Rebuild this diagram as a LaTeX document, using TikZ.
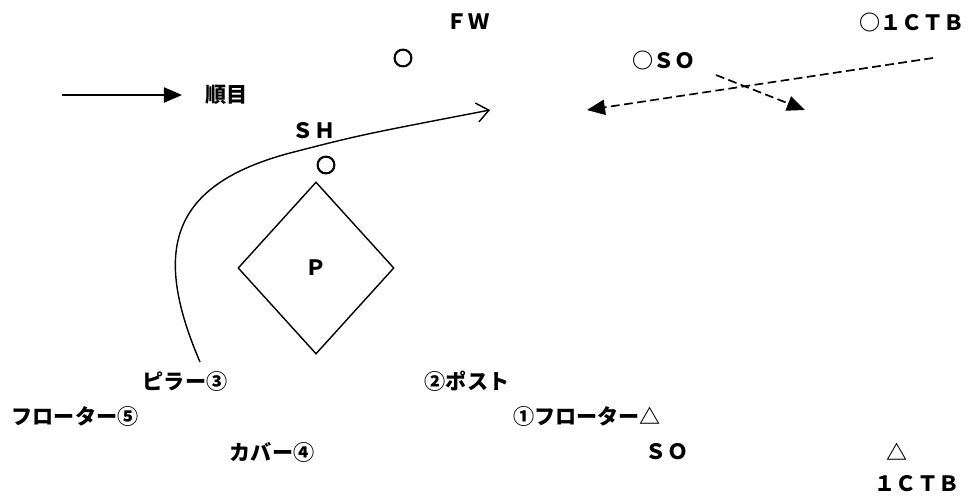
\documentclass[tikz,border=0pt]{standalone}
\usepackage{fontspec}
\newfontfamily\jpfont{Noto Sans CJK JP}
\usetikzlibrary{arrows.meta, shapes.geometric}
\tikzset{
  >={Triangle[length=4.5mm, width=3.8mm]},
  lbl/.style={font=\jpfont\bfseries\fontsize{15pt}{15pt}\selectfont, inner sep=0pt},
  ring/.style={circle, draw, line width=1.5pt, minimum size=4.2mm, inner sep=0pt},
  plate/.style={diamond, draw, line width=1pt, minimum width=3.9cm, minimum height=4.3cm, inner sep=0pt},
  flow/.style={->, line width=1pt},
  flowd/.style={->, line width=1.2pt, dash pattern=on 2.2mm off 1.1mm},
  run/.style={-{Straight Barb[length=3mm, width=4.8mm, line width=1pt]}, line width=1pt},
}
\begin{document}
\begin{tikzpicture}[x=0.025cm, y=-0.025cm]
  \useasboundingbox (0,0) rectangle (978,500);
  % top row
  \node[lbl] (fw) at (468,22) {ＦＷ};
  \node[ring] (fwp) at (403,58) {};
  \node[lbl] (so) at (664,60) {○ＳＯ};
  \node[lbl] (ctb) at (912,22) {○１ＣＴＢ};
  % legend
  \coordinate (lg) at (62,95);
  \coordinate (lgtip) at (182,95);
  \node[lbl, anchor=west] (jun) at (205,95) {順目};
  \draw[flow] (lg) -- (lgtip);
  % dashed runs
  \coordinate (ctbrun) at (933,58);
  \coordinate (soend) at (587,110);
  \coordinate (xa) at (716,75);
  \coordinate (xb) at (805,110);
  \draw[flowd] (ctbrun) -- (soend);
  \draw[flowd] (xa) -- (xb);
  % SH and plate
  \node[lbl] (sh) at (314,131) {ＳＨ};
  \node[ring] (shp) at (326,165) {};
  \node[plate] (p) at (316,268) {};
  \node[lbl] at (p.center) {Ｐ};
  % pillar run
  \coordinate (pst) at (200,362);
  \coordinate (pend) at (490,110);
  \draw[run] (pst) .. controls (152,250) and (170,185) .. (290,153)
                    .. controls (360,135) .. (pend);
  % bottom labels
  \node[lbl] (pil) at (185,381) {ピラー③};
  \node[lbl] (fl5) at (75,416) {フローター⑤};
  \node[lbl] (cov) at (272,452) {カバー④};
  \node[lbl] (post) at (467,381) {②ポスト};
  \node[lbl] (fl1) at (587,416) {①フローター△};
  \node[lbl] (sob) at (667,452) {ＳＯ};
  \node[lbl] (tri) at (897,452) {△};
  \node[lbl] (ctbb) at (917,484) {１ＣＴＢ};
\end{tikzpicture}
\end{document}
